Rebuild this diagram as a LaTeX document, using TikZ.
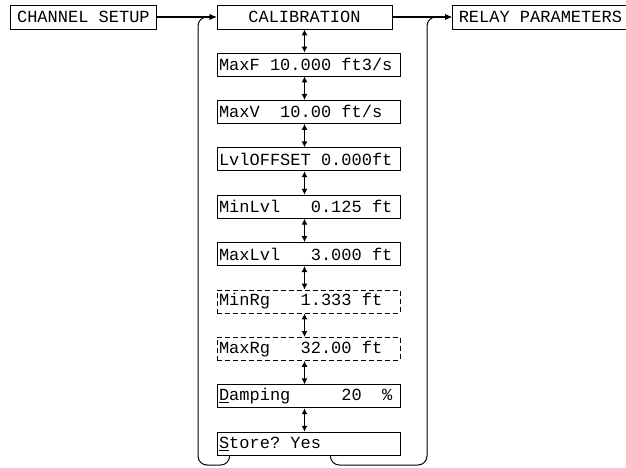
\documentclass[tikz,border=0pt]{standalone}
\usepackage{fontspec}
\setmonofont{Liberation Mono}
\usetikzlibrary{arrows.meta}

% one character cell of the display
\newcommand{\pad}{\hphantom{0}}

\begin{document}
\begin{tikzpicture}[
    x=1pt, y=-1pt,
    every node/.style={font=\ttfamily\fontsize{17}{20}\selectfont},
    menu/.style={
        draw,
        line width=0.8pt,
        inner xsep=2pt,
        minimum height=23pt
    },
    item/.style={
        menu,
        text width=179pt,
        align=left
    },
    opt/.style={item, dash pattern=on 5pt off 3pt},
    flow/.style={-{Latex[length=7pt, width=6pt]}, line width=1.6pt},
    loop/.style={flow, line width=1pt, rounded corners=9pt},
    link/.style={{Latex[length=6pt, width=6pt]}-{Latex[length=6pt, width=6pt]}, line width=1.6pt}
]

    \useasboundingbox (0,0) rectangle (626,468);

    % Top row
    \node[menu, minimum width=146pt, minimum height=24pt, anchor=west] (chan) at (10,17) {CHANNEL\pad SETUP};
    \node[menu, minimum width=175pt, minimum height=24pt] (cal) at (304.5,17) {CALIBRATION};
    \node[menu, minimum width=176pt, minimum height=24pt, anchor=west] (relay) at (452,17) {RELAY\pad PARAMETERS};

    \draw[flow] (chan.east) -- (cal.west);
    \draw[flow] (cal.east) -- (relay.west);

    % Calibration menu
    \node[item] (maxf) at (308.5,64.5) {MaxF\pad 10.000\pad ft3/s};
    \node[item] (maxv) at (308.5,111.9) {MaxV\pad\pad 10.00\pad ft/s};
    \node[item] (lvloff) at (308.5,159.3) {LvlOFFSET\pad 0.000ft};
    \node[item] (minlvl) at (308.5,206.7) {MinLvl\pad\pad\pad 0.125\pad ft};
    \node[item] (maxlvl) at (308.5,254.1) {MaxLvl\pad\pad\pad 3.000\pad ft};
    \node[opt] (minrg) at (308.5,301.5) {MinRg\pad\pad\pad 1.333\pad ft};
    \node[opt] (maxrg) at (308.5,348.9) {MaxRg\pad\pad\pad 32.00\pad ft};
    \node[item] (damp) at (308.5,396.3) {\underline{D}amping\pad\pad\pad\pad\pad 20\pad\pad\%};
    \node[item] (store) at (308.5,443.7) {\underline{S}tore?\pad Yes};

    \draw[link] (cal.south) -- (maxf.north -| cal);
    \draw[link] (maxf.south -| cal) -- (maxv.north -| cal);
    \draw[link] (maxv.south -| cal) -- (lvloff.north -| cal);
    \draw[link] (lvloff.south -| cal) -- (minlvl.north -| cal);
    \draw[link] (minlvl.south -| cal) -- (maxlvl.north -| cal);
    \draw[link] (maxlvl.south -| cal) -- (minrg.north -| cal);
    \draw[link] (minrg.south -| cal) -- (maxrg.north -| cal);
    \draw[link] (maxrg.south -| cal) -- (damp.north -| cal);
    \draw[link] (damp.south -| cal) -- (store.north -| cal);

    % Return loops
    \coordinate (lb) at (198,465);
    \coordinate (rb) at (427,465);
    \draw[loop] ([xshift=13pt]store.south west) |- (lb) |- (cal.west);
    \draw[loop] ([xshift=-70pt]store.south east) |- (rb) |- (relay.west);

\end{tikzpicture}
\end{document}
